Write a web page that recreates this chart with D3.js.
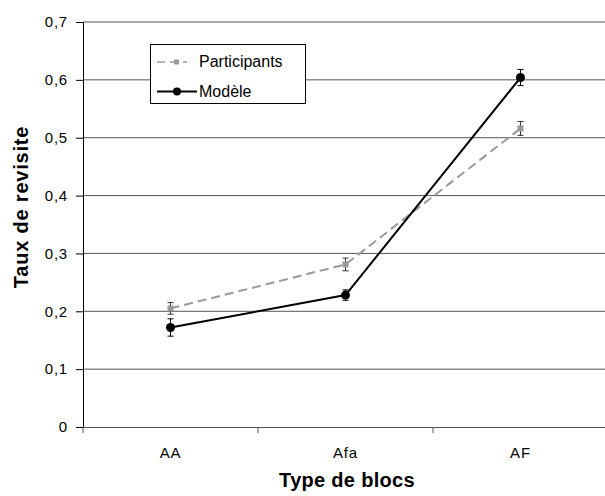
<!DOCTYPE html>
<html><head><meta charset="utf-8">
<script src="https://cdn.jsdelivr.net/npm/d3@7"></script>
<style>body{margin:0;background:#fff}svg{display:block;font-family:"Liberation Sans",Arial,sans-serif}</style>
</head><body><svg id="c" width="605" height="496"></svg>
<script>
const categories = ["AA", "Afa", "AF"];
const participants = [0.205, 0.281, 0.516];
const participantsErr = [0.010, 0.011, 0.012];
const modele = [0.172, 0.228, 0.604];
const modeleErr = [0.015, 0.009, 0.014];
const yTicks = [0, 0.1, 0.2, 0.3, 0.4, 0.5, 0.6, 0.7];
const seriesNames = ["Participants", "Modèle"];

const svg = d3.select("#c");
const mLeft = 83, mRight = 608, mTop = 22, mBottom = 427;
const x = d3.scaleBand().domain(categories).range([mLeft, mRight]);
const y = d3.scaleLinear().domain([0, 0.7]).range([mBottom, mTop]);
const fmt = d => d === 0 ? "0" : d3.format(".1f")(d).replace(".", ",");
const FF = "Liberation Sans, Arial, sans-serif";

// gridlines
svg.append("g").selectAll("line").data(yTicks.filter(d => d > 0)).join("line")
  .attr("x1", mLeft).attr("x2", mRight).attr("y1", d => y(d)).attr("y2", d => y(d))
  .attr("stroke", "#555").attr("stroke-width", 1);

// y axis
const ya = svg.append("g").attr("transform", `translate(${mLeft},0)`)
  .call(d3.axisLeft(y).tickValues(yTicks).tickFormat(fmt).tickSize(7).tickPadding(8));
ya.select(".domain").attr("stroke", "#000");
ya.selectAll(".tick line").attr("stroke", "#000");
ya.selectAll("text").attr("font-size", 15).attr("letter-spacing", "0.8px").attr("fill", "#000").attr("font-family", FF);

// x axis
const xa = svg.append("g").attr("transform", `translate(0,${mBottom})`)
  .call(d3.axisBottom(x).tickSize(0).tickPadding(20));
xa.select(".domain").attr("stroke", "#555");
xa.selectAll("text").attr("font-size", 15).attr("letter-spacing", "0.8px").attr("fill", "#000").attr("font-family", FF);
const bounds = categories.map(c => x(c)).concat([x(categories[categories.length-1]) + x.bandwidth()]);
svg.append("g").selectAll("line").data(bounds).join("line")
  .attr("x1", d => d).attr("x2", d => d).attr("y1", mBottom).attr("y2", mBottom + 6)
  .attr("stroke", "#555");

const cx = c => x(c) + x.bandwidth() / 2;
const line = d3.line().x((d, i) => cx(categories[i])).y(d => y(d));

function errBars(vals, errs, color) {
  const g = svg.append("g");
  vals.forEach((v, i) => {
    const X = cx(categories[i]);
    g.append("line").attr("x1", X).attr("x2", X).attr("y1", y(v - errs[i])).attr("y2", y(v + errs[i])).attr("stroke", color);
    [v - errs[i], v + errs[i]].forEach(e => g.append("line").attr("x1", X - 3).attr("x2", X + 3).attr("y1", y(e)).attr("y2", y(e)).attr("stroke", color));
  });
}

// participants
svg.append("path").datum(participants).attr("d", line).attr("fill", "none")
  .attr("stroke", "#999").attr("stroke-width", 2).attr("stroke-dasharray", "9,5");
errBars(participants, participantsErr, "#333");
svg.append("g").selectAll("rect").data(participants).join("rect")
  .attr("x", (d, i) => cx(categories[i]) - 3).attr("y", d => y(d) - 3)
  .attr("width", 6).attr("height", 6).attr("fill", "#999");

// modele
svg.append("path").datum(modele).attr("d", line).attr("fill", "none")
  .attr("stroke", "#000").attr("stroke-width", 2);
errBars(modele, modeleErr, "#000");
svg.append("g").selectAll("circle").data(modele).join("circle")
  .attr("cx", (d, i) => cx(categories[i])).attr("cy", d => y(d)).attr("r", 4.5).attr("fill", "#000");

// legend
const lg = svg.append("g");
lg.append("rect").attr("x", 150.5).attr("y", 44.5).attr("width", 155).attr("height", 59)
  .attr("fill", "#fff").attr("stroke", "#000");
lg.append("line").attr("x1", 157).attr("x2", 187).attr("y1", 62).attr("y2", 62)
  .attr("stroke", "#999").attr("stroke-width", 1.5).attr("stroke-dasharray", "8,5");
lg.append("rect").attr("x", 174).attr("y", 59.5).attr("width", 5).attr("height", 5).attr("fill", "#999");
lg.append("line").attr("x1", 157).attr("x2", 197).attr("y1", 91.5).attr("y2", 91.5).attr("stroke", "#000").attr("stroke-width", 2);
lg.append("circle").attr("cx", 177).attr("cy", 91.5).attr("r", 4).attr("fill", "#000");
lg.append("text").attr("x", 199).attr("y", 67).attr("font-size", 16).text(seriesNames[0]);
lg.append("text").attr("x", 199).attr("y", 97).attr("font-size", 16).text(seriesNames[1]);

// axis titles
svg.append("text").attr("transform", `translate(28,207) rotate(-90)`)
  .attr("text-anchor", "middle").attr("font-size", 20).attr("letter-spacing", "0.8px")
  .attr("font-weight", "bold").text("Taux de revisite");
svg.append("text").attr("x", 347).attr("y", 487).attr("text-anchor", "middle")
  .attr("font-size", 20).attr("letter-spacing", "0.3px").attr("font-weight", "bold").text("Type de blocs");
</script></body></html>
